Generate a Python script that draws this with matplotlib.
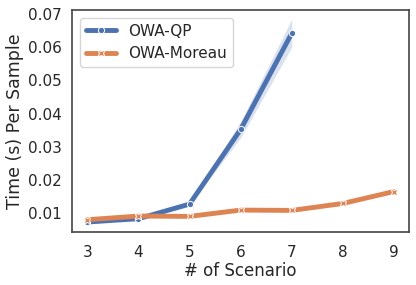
import matplotlib
matplotlib.use("Agg")
import matplotlib.pyplot as plt
import seaborn as sns

sns.set_theme(style="white", palette="deep")
plt.rcParams['font.family'] = ['DejaVu Sans']

scenarios_qp = [3, 4, 5, 6, 7]
qp_mean = [0.0073, 0.0083, 0.0127, 0.0352, 0.0642]
qp_low = [0.0071, 0.0081, 0.0123, 0.0327, 0.0600]
qp_high = [0.0075, 0.0085, 0.0131, 0.0376, 0.0685]

scenarios_moreau = [3, 4, 5, 6, 7, 8, 9]
moreau_mean = [0.0080, 0.0091, 0.0090, 0.0109, 0.0108, 0.0129, 0.0165]

xticks = [3, 4, 5, 6, 7, 8, 9]
yticks = [0.01, 0.02, 0.03, 0.04, 0.05, 0.06, 0.07]

blue = sns.color_palette("deep")[0]
orange = sns.color_palette("deep")[1]

fig = plt.figure(figsize=(4.16, 2.85), dpi=100)
ax = fig.add_axes([0.173, 0.186, 0.811, 0.779])

ax.fill_between(scenarios_qp, qp_low, qp_high, color=blue, alpha=0.2, lw=0)
ax.plot(scenarios_qp, qp_mean, color=blue, lw=3.5, marker='o', ms=4.5,
        mec='white', mew=0.7, label='OWA-QP')
ax.plot(scenarios_moreau, moreau_mean, color=orange, lw=3.5, marker='X', ms=4.5,
        mec='white', mew=0.7, label='OWA-Moreau')

ax.set_xlim(2.7, 9.3)
ax.set_ylim(0.0043, 0.0712)
ax.set_xticks(xticks)
ax.set_yticks(yticks)
ax.tick_params(labelsize=11)
ax.tick_params(axis='y', pad=1.5)
ax.set_xlabel('# of Scenario', fontsize=12, labelpad=1)
ax.set_ylabel('Time (s) Per Sample', fontsize=12.5, labelpad=3)
for s in ax.spines.values():
    s.set_color('#444444')
    s.set_linewidth(1.2)
ax.legend(loc='upper left', fontsize=11, frameon=True)

fig.savefig('out.png', dpi=100)
